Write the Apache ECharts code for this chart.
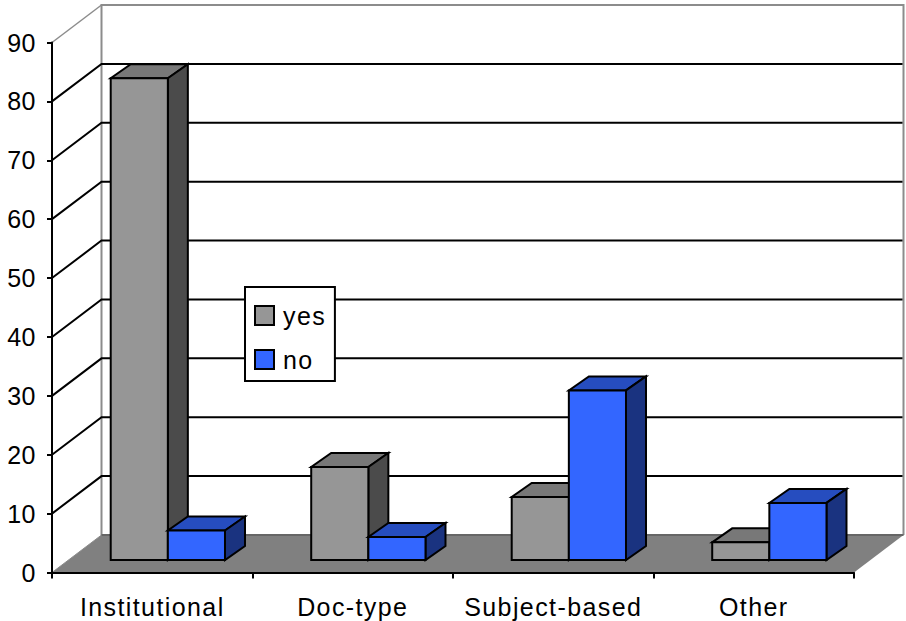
<!DOCTYPE html>
<html>
<head>
<meta charset="utf-8">
<style>
html,body{margin:0;padding:0;background:#fff}
#c{width:906px;height:621px}
svg text{letter-spacing:1.4px}
svg text[text-anchor="end"]{letter-spacing:.5px}
</style>
<script src="https://cdn.jsdelivr.net/npm/echarts@6/dist/echarts.min.js"></script>
</head>
<body>
<div id="c"></div>
<script>
const categories = ['Institutional', 'Doc-type', 'Subject-based', 'Other'];
const yesValues = [81.8, 15.8, 10.7, 3];
const noValues = [5, 3.9, 28.8, 9.7];
const gridTicks = [10, 20, 30, 40, 50, 60, 70, 80];
const FONT = '"Liberation Sans", Arial, sans-serif';

// depth of the box and of the bars, in pixels
const BOX_DX = 49.5, BOX_DY = -37.5;
const BAR_DX = 20, BAR_DY = -14;
const PLANE_DX = 15.6, PLANE_DY = -12.5;

function poly(points, fill, stroke, w) {
  return { type: 'polygon', shape: { points },
    style: { fill, stroke: stroke || 'none', lineWidth: w === undefined ? 2 : w, lineJoin: 'miter' } };
}
function line(points, stroke, w) {
  return { type: 'polyline', shape: { points },
    style: { fill: 'none', stroke, lineWidth: w } };
}

function renderBox(params, api) {
  const cs = params.coordSys;
  const l = cs.x, r = cs.x + cs.width;
  const y0 = api.coord([0, 0])[1], y90 = api.coord([0, 90])[1];
  const children = [];
  // floor
  children.push(poly([[l, y0], [r, y0], [r + BOX_DX, y0 + BOX_DY], [l + BOX_DX, y0 + BOX_DY]], '#808080', 'none', 0));
  // walls
  const wall = '#8c8c8c';
  children.push(line([[l + BOX_DX, y0 + BOX_DY], [l + BOX_DX, y90 + BOX_DY], [r + BOX_DX, y90 + BOX_DY], [r + BOX_DX, y0 + BOX_DY]], wall, 2));
  children.push(line([[l, y90], [l + BOX_DX, y90 + BOX_DY]], wall, 1.5));
  children.push(line([[l, y0], [l + BOX_DX, y0 + BOX_DY]], '#8c8c8c', 1));
  children.push(line([[l + BOX_DX, y0 + BOX_DY], [r + BOX_DX, y0 + BOX_DY]], '#666666', 2));
  // grid lines
  gridTicks.forEach(function (t) {
    const y = api.coord([0, t])[1];
    children.push(line([[l, y], [l + BOX_DX, y + BOX_DY], [r + BOX_DX - 1, y + BOX_DY]], '#000', 2));
  });
  return { type: 'group', children };
}

function barRenderer(side, front, top, dark) {
  return function (params, api) {
    const c = api.value(0), v = api.value(1);
    const mid = api.coord([c, 0]);
    const band = api.size([1, 0])[0];
    const w = band * 0.285;
    const x0 = mid[0] + PLANE_DX + (side < 0 ? -w : 0), x1 = x0 + w;
    const yb = mid[1] + PLANE_DY;
    const yt = api.coord([c, v])[1] + PLANE_DY;
    return { type: 'group', children: [
      poly([[x0, yt], [x1, yt], [x1 + BAR_DX, yt + BAR_DY], [x0 + BAR_DX, yt + BAR_DY]], top, '#000'),
      poly([[x1, yt], [x1 + BAR_DX, yt + BAR_DY], [x1 + BAR_DX, yb + BAR_DY], [x1, yb]], dark, '#000'),
      poly([[x0, yt], [x1, yt], [x1, yb], [x0, yb]], front, '#000')
    ] };
  };
}

const chart = echarts.init(document.getElementById('c'), null, { renderer: 'svg' });
chart.setOption({
  animation: false,
  backgroundColor: '#fff',
  grid: { left: 52, right: 52, top: 42.5, bottom: 48.5 },
  legend: {
    data: ['yes', 'no'], orient: 'vertical', left: 245, top: 287,
    backgroundColor: '#fff', borderColor: '#000', borderWidth: 2,
    padding: [16, 13, 9, 9], itemWidth: 19, itemHeight: 19, itemGap: 19, icon: 'rect',
    itemStyle: { borderColor: '#000', borderWidth: 2 },
    textStyle: { fontFamily: FONT, fontSize: 25, color: '#000', padding: [0, 0, 0, 4] }
  },
  xAxis: {
    type: 'category', data: categories, z: 5,
    axisLine: { lineStyle: { color: '#000', width: 2 } },
    axisTick: { show: true, length: 6, alignWithLabel: false, lineStyle: { color: '#000', width: 2 } },
    axisLabel: { fontFamily: FONT, fontSize: 25, color: '#000', margin: 22, interval: 0 },
    splitLine: { show: false }
  },
  yAxis: {
    type: 'value', min: 0, max: 90, interval: 10, z: 5,
    axisLine: { show: true, lineStyle: { color: '#000', width: 2 } },
    axisTick: { show: true, length: 5, lineStyle: { color: '#000', width: 2 } },
    axisLabel: { fontFamily: FONT, fontSize: 25, color: '#000', margin: 16 },
    splitLine: { show: false }
  },
  series: [
    { type: 'custom', name: 'box', z: 1, silent: true, coordinateSystem: 'cartesian2d',
      data: [[0, 0]], renderItem: renderBox, clip: false },
    { type: 'custom', name: 'yes', z: 2, coordinateSystem: 'cartesian2d', encode: { x: 0, y: 1 },
      itemStyle: { color: '#969696' },
      data: yesValues.map((v, i) => [i, v]),
      renderItem: barRenderer(-1, '#969696', '#787878', '#4b4b4b') },
    { type: 'custom', name: 'no', z: 3, coordinateSystem: 'cartesian2d', encode: { x: 0, y: 1 },
      itemStyle: { color: '#3366ff' },
      data: noValues.map((v, i) => [i, v]),
      renderItem: barRenderer(1, '#3366ff', '#264dbf', '#1a3380') }
  ]
});
</script>
</body>
</html>
